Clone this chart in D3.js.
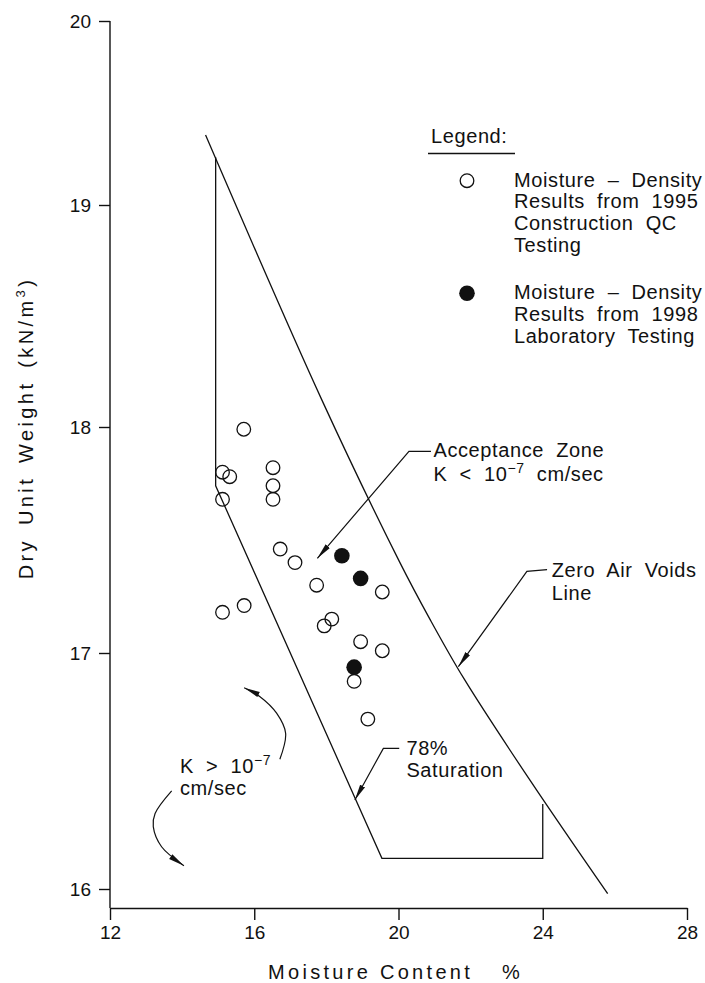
<!DOCTYPE html>
<meta charset="utf-8">
<style>
body { margin: 0; background: #fff; }
svg { display: block; font-family: "Liberation Sans", Arial, sans-serif; }
</style>
<svg width="705" height="983"></svg>
<script src="https://cdn.jsdelivr.net/npm/d3@7"></script>
<script>

// [moisture content %, dry unit weight kN/m3]
var qc1995 = [
  [15.71, 17.99], [15.12, 17.80], [15.32, 17.78], [16.52, 17.82], [16.52, 17.74],
  [16.52, 17.68], [15.12, 17.68], [16.72, 17.46], [17.13, 17.40], [17.73, 17.30],
  [19.55, 17.27], [15.12, 17.18], [15.72, 17.21], [18.15, 17.15], [17.94, 17.12],
  [18.95, 17.05], [19.55, 17.01], [18.77, 16.88], [19.15, 16.72]
];
var lab1998 = [[18.43, 17.43], [18.95, 17.33], [18.77, 16.94]];

var zeroAirVoids = [
  [14.65, 19.38], [17.88, 18.12], [20.04, 17.40], [20.87, 17.15],
  [21.82, 16.89], [23.65, 16.46], [25.80, 15.98]
];
// acceptance zone edge: 78% saturation line and the 24% cut-off
var zoneEdge = [[14.93, 19.26], [14.93, 17.74], [19.54, 16.13], [24.0, 16.13], [24.0, 16.36]];

var xTicks = [12, 16, 20, 24, 28],
    yTicks = [16, 17, 18, 19, 20];

// callouts, in data units
var leaders = [
  [[20.90, 17.892], [20.29, 17.892], [17.75, 17.419]],
  [[24.12, 17.369], [23.56, 17.361], [21.66, 16.942]],
  [[20.02, 16.596], [19.58, 16.596], [18.79, 16.377]]
];
var bends = [
  [[16.71, 16.550], [16.87, 16.660], [16.62, 16.745], [16.16, 16.815], [15.72, 16.853]],
  [[13.71, 16.416], [13.25, 16.320], [13.20, 16.264], [13.43, 16.179], [14.05, 16.099]]
];
var notes = [
  {at: [20.97, 17.866], gap: 24, lines: ["Acceptance Zone", "K < 10^\u22127^ cm/sec"]},
  {at: [24.25, 17.338], gap: 23, lines: ["Zero Air Voids", "Line"]},
  {at: [20.22, 16.568], gap: 22, lines: ["78%", "Saturation"]},
  {at: [13.94, 16.490], gap: 22, lines: ["K > 10^\u22127^", "cm/sec"]}
];

var legendItems = [
  {filled: false, lines: ["Moisture \u2013 Density", "Results from 1995", "Construction QC", "Testing"]},
  {filled: true, lines: ["Moisture \u2013 Density", "Results from 1998", "Laboratory Testing"]}
];

var svg = d3.select("svg"),
    width = +svg.attr("width"),
    height = +svg.attr("height"),
    ink = "#111";

var x = d3.scaleLinear().domain([12, 28]).range([110, 687]);
// the scanned axis is not evenly spaced, so each unit gets its own span
var y = d3.scaleLinear().domain(yTicks).range([889, 653, 427, 205, 21]);
var baseY = 908;

svg.append("defs").append("marker")
    .attr("id", "arrow")
    .attr("viewBox", "0 -4 16 8")
    .attr("refX", 16).attr("refY", 0)
    .attr("markerWidth", 16).attr("markerHeight", 8)
    .attr("markerUnits", "userSpaceOnUse")
    .attr("orient", "auto")
  .append("path")
    .attr("d", "M0,-2.8L16,0L0,2.8Z")
    .attr("fill", ink);

// axes
var gx = svg.append("g")
    .attr("transform", "translate(0," + baseY + ")")
    .call(d3.axisBottom(x).tickValues(xTicks).tickSize(12).tickSizeOuter(0).tickPadding(6));
var gy = svg.append("g")
    .attr("transform", "translate(" + x(12) + ",0)")
    .call(d3.axisLeft(y).tickValues(yTicks).tickFormat(d3.format("d")).tickSize(11).tickPadding(8));
gy.select(".domain").remove();
gy.append("line")
    .attr("y1", y(20)).attr("y2", baseY)
    .attr("stroke", ink).attr("stroke-width", 1.4);

[gx, gy].forEach(function(g) {
  g.attr("font-family", null).attr("font-size", null);
  g.selectAll("path, line").attr("stroke", ink).attr("stroke-width", 1.4);
  g.selectAll("text").attr("fill", ink).style("font-size", "19px");
});

svg.append("text")
    .attr("x", 268).attr("y", 979)
    .attr("fill", ink)
    .style("font-size", "20px").style("letter-spacing", "3.3px")
    .text("Moisture Content")
  .append("tspan")
    .attr("x", 502)
    .text("%");

var yt = svg.append("text")
    .attr("transform", "translate(33,428) rotate(-90)")
    .attr("text-anchor", "middle")
    .attr("fill", ink)
    .style("font-size", "20px").style("letter-spacing", "3.4px").style("word-spacing", "4px");
yt.append("tspan").text("Dry Unit Weight (kN/m");
yt.append("tspan").attr("dy", -8).style("font-size", "13px").text("3");
yt.append("tspan").attr("dy", 8).text(")");

// zone lines
var line = d3.line()
    .x(function(d) { return x(d[0]); })
    .y(function(d) { return y(d[1]); });

svg.append("path")
    .datum(zeroAirVoids)
    .attr("d", line.curve(d3.curveCatmullRom))
    .attr("fill", "none").attr("stroke", ink).attr("stroke-width", 1.3);
line.curve(d3.curveLinear);

svg.append("path")
    .datum(zoneEdge)
    .attr("d", line)
    .attr("fill", "none").attr("stroke", ink).attr("stroke-width", 1.3);

// points
svg.append("g").selectAll("circle")
  .data(qc1995)
  .enter().append("circle")
    .attr("cx", function(d) { return x(d[0]); })
    .attr("cy", function(d) { return y(d[1]); })
    .attr("r", 6.8)
    .attr("fill", "none").attr("stroke", ink).attr("stroke-width", 1.3);

svg.append("g").selectAll("circle")
  .data(lab1998)
  .enter().append("circle")
    .attr("cx", function(d) { return x(d[0]); })
    .attr("cy", function(d) { return y(d[1]); })
    .attr("r", 7.8)
    .attr("fill", ink);

// callouts
svg.append("g").selectAll("path")
  .data(leaders)
  .enter().append("path")
    .attr("d", line)
    .attr("fill", "none").attr("stroke", ink).attr("stroke-width", 1.2)
    .attr("marker-end", "url(#arrow)");

var bend = d3.line()
    .x(function(d) { return x(d[0]); })
    .y(function(d) { return y(d[1]); })
    .curve(d3.curveCatmullRom);

svg.append("g").selectAll("path")
  .data(bends)
  .enter().append("path")
    .attr("d", bend)
    .attr("fill", "none").attr("stroke", ink).attr("stroke-width", 1.2)
    .attr("marker-end", "url(#arrow)");

// each line gets its own baseline; "^" marks a superscript run
function writeLines(t, lines, x0, y0, gap) {
  lines.forEach(function(s, i) {
    s.split("^").forEach(function(p, j) {
      if (!p) return;
      var ts = t.append("tspan").text(p);
      if (j === 0) ts.attr("x", x0).attr("y", y0 + i * gap);
      else if (j % 2) ts.attr("dy", -8).style("font-size", "14px");
      else ts.attr("dy", 8);
    });
  });
}

notes.forEach(function(n) {
  var t = svg.append("text")
      .attr("fill", ink)
      .style("font-size", "20px").style("letter-spacing", "0.6px").style("word-spacing", "6px");
  writeLines(t, n.lines, x(n.at[0]), y(n.at[1]), n.gap);
});

// legend
var lg = svg.append("g");
lg.append("text")
    .attr("x", 431).attr("y", 143)
    .attr("fill", ink)
    .style("font-size", "20px").style("letter-spacing", "0.6px")
    .text("Legend:");
lg.append("line")
    .attr("x1", 428).attr("x2", 515)
    .attr("y1", 153.5).attr("y2", 153.5)
    .attr("stroke", ink).attr("stroke-width", 1.3);

var rows = [186.7, 299.3];
legendItems.forEach(function(item, i) {
  lg.append("circle")
      .attr("cx", 467).attr("cy", rows[i] - 6)
      .attr("r", item.filled ? 7.8 : 6.8)
      .attr("fill", item.filled ? ink : "none")
      .attr("stroke", item.filled ? null : ink)
      .attr("stroke-width", 1.3);
  var t = lg.append("text")
      .attr("fill", ink)
      .style("font-size", "20px").style("letter-spacing", "0.6px").style("word-spacing", "6px");
  writeLines(t, item.lines, 514, rows[i], 21.7);
});

</script>
